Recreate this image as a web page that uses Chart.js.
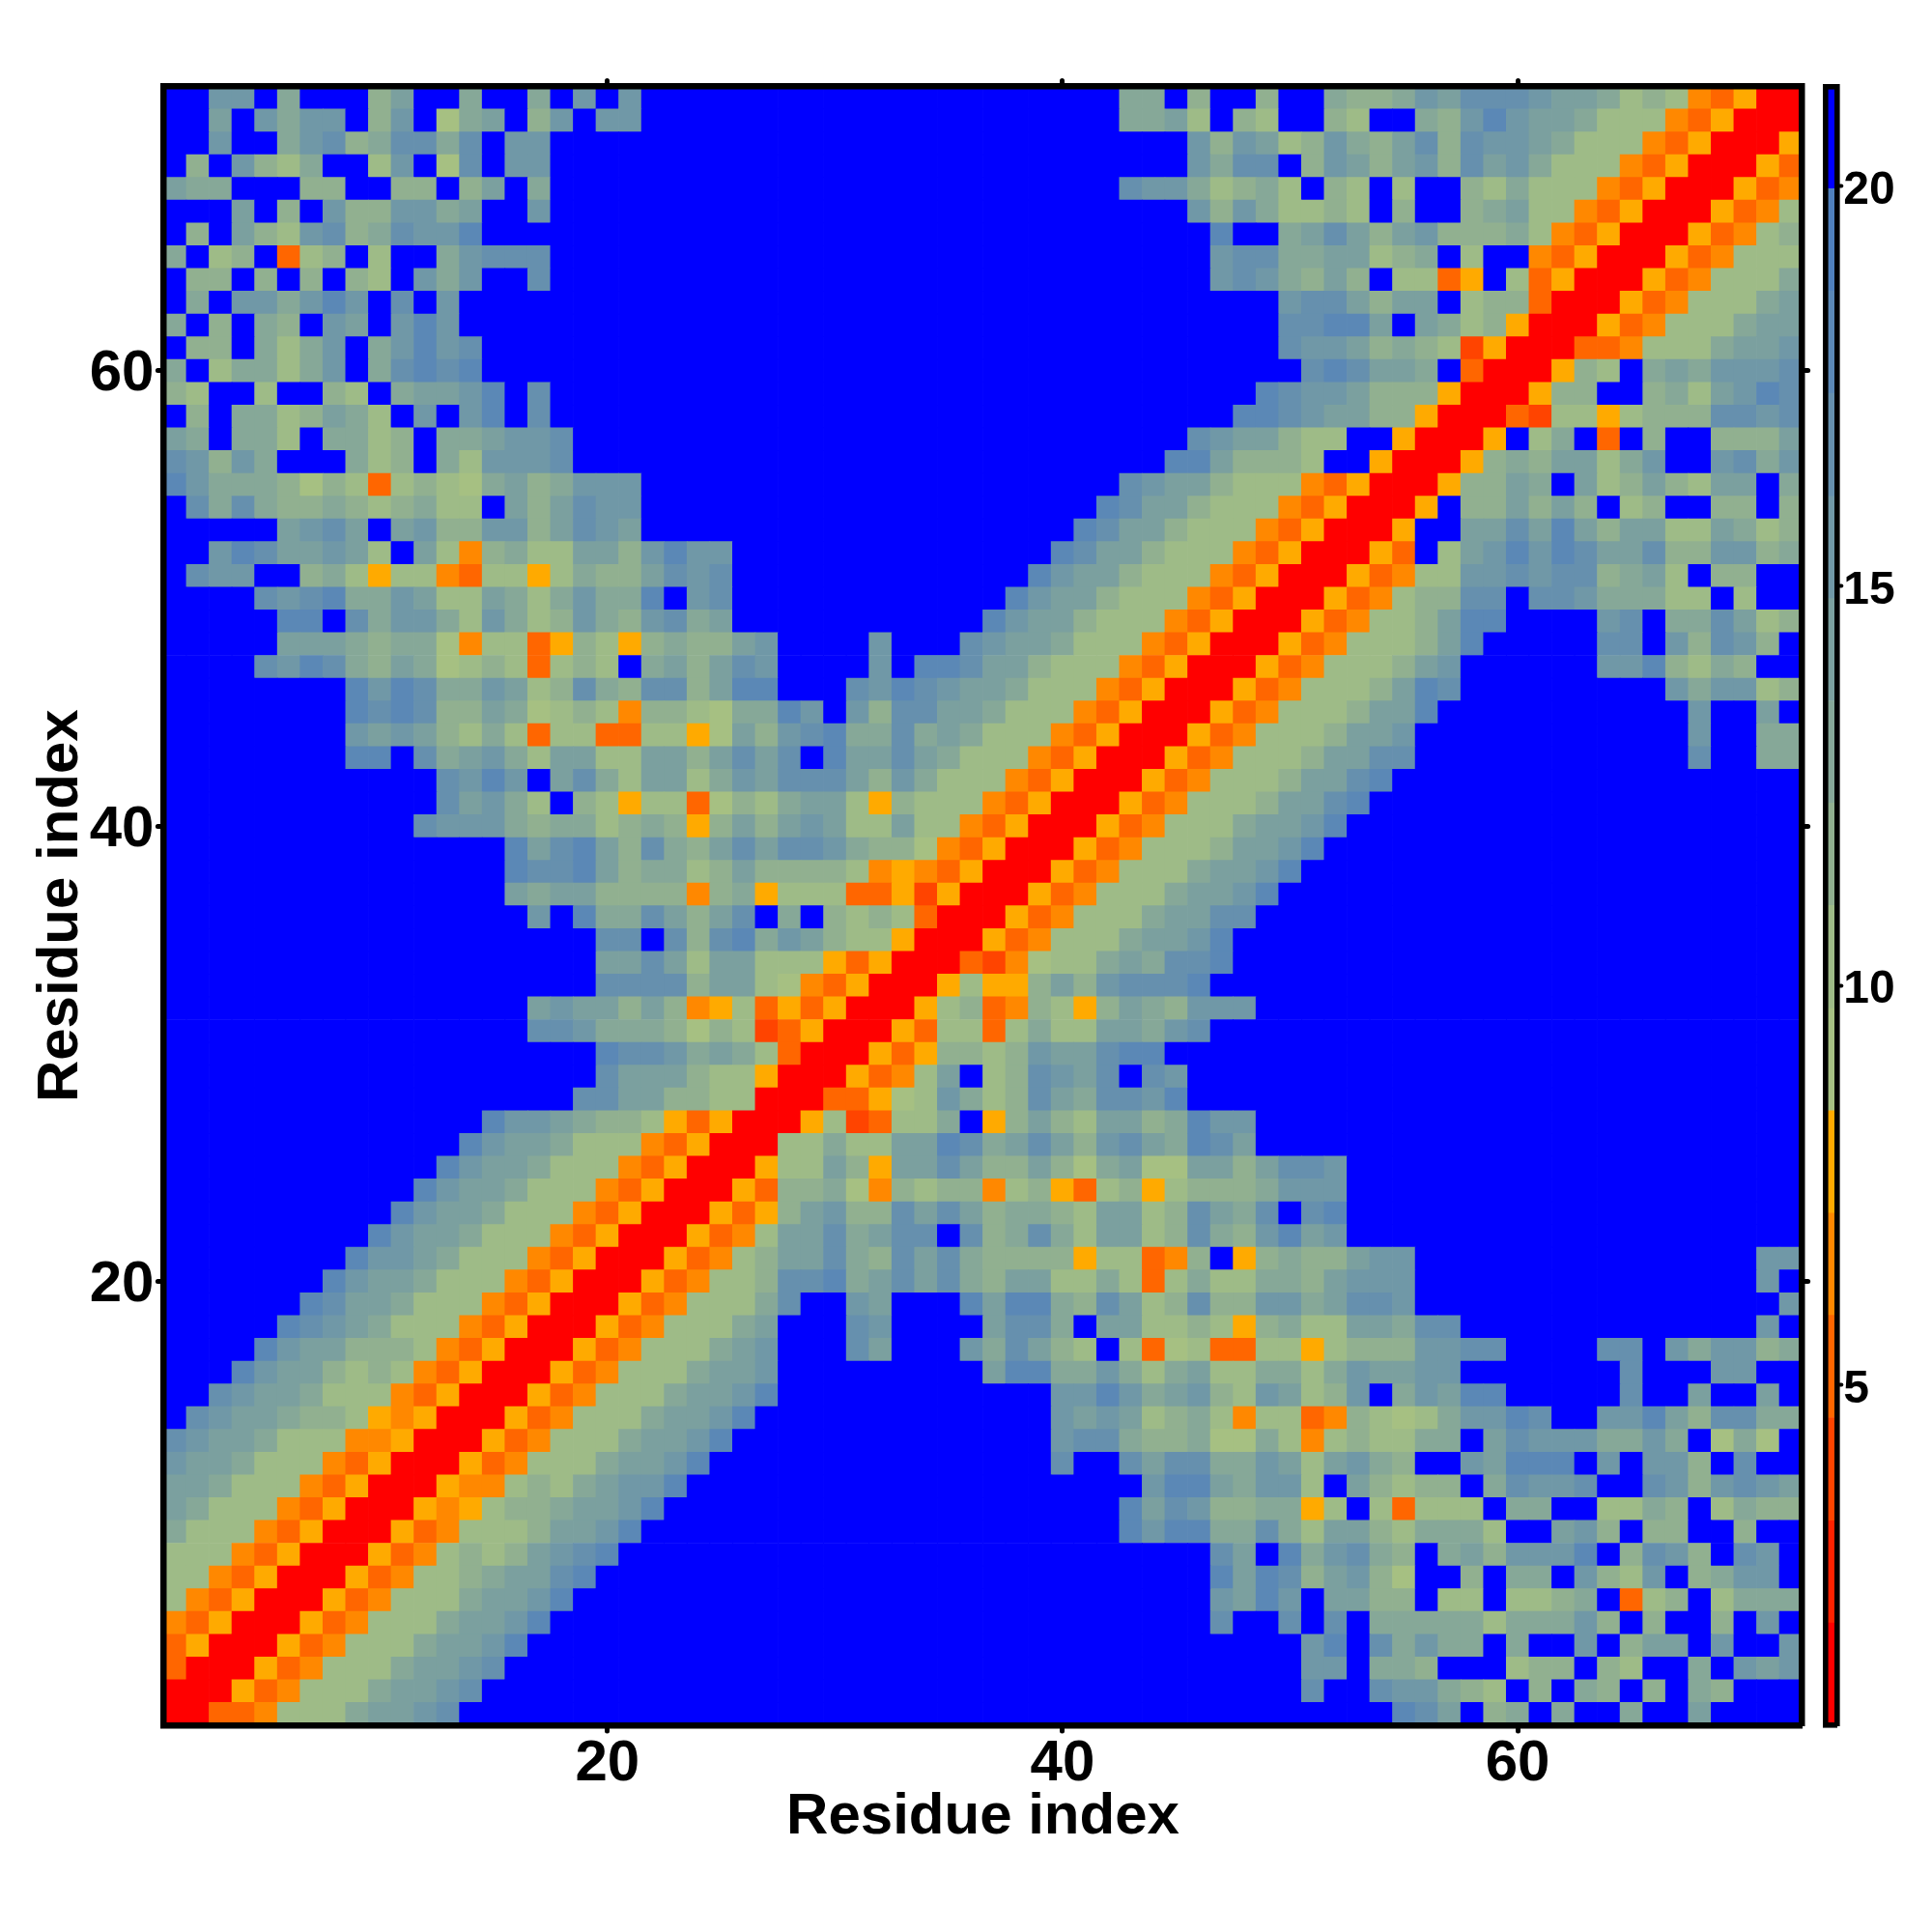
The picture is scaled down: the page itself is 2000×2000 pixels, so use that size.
<!DOCTYPE html>
<html>
<head>
<meta charset="utf-8">
<style>
html,body{margin:0;padding:0;background:#fff;width:2000px;height:2000px;overflow:hidden}
canvas{position:absolute;left:0;top:0}
</style>
<script src="https://cdn.jsdelivr.net/npm/chart.js@4/dist/chart.umd.min.js"></script>
</head>
<body>
<canvas id="map" width="2000" height="2000"></canvas>
<canvas id="bar" width="2000" height="2000"></canvas>
<script>
const axisTitle = 'Residue index';
const residueTicks = [20, 40, 60];
const colorbarTicks = [5, 10, 15, 20];
const levelEdges = [0.74,2.02,3.30,4.59,5.87,7.15,8.43,9.71,11.0,12.28,13.56,14.84,16.12,17.41,18.69,19.97,21.25];
const levelColors = ['#FF0000','#FF2200','#FF4400','#FF6600','#FF8800','#FFAA00',
  '#A6C082','#9EBB87','#91B090','#86A898','#7BA09F','#7098A7','#6690AE','#5B88B6','#5080BD','#0000FF'];
// Colour level (hex digit, 0..f) of each residue pair; row y = 72 first, x = 1..y.
// The map is symmetric about its diagonal, so each row stops at the diagonal.
const pairLevels = [
"ffbbf9fff8aff9ff9fbfbfff ffffffffffffffffff99f8ff 8ff9889bacccbaa978743500",
"ffafb9bbf8bf69af8bfbbfff ffffffffffffffffff99a7f8 7ff87ff98bdbaa977743500",
"ffbff9bc89cc9cfbbfffffff fffffffffffffffffffffb8b a78b98ac8cbba977743500",
"f8fb879ff7bf6cfbbfffffff fffffffffffffffffffffb9c cf8ba8ab8cab977743500",
"a99fff88ff88f8af9fffffff ffffffffffffffffffcbb978 97f87f7ff87977743500",
"fffaf8fb88bb9affbfffffff fffffffffffffffffffffb8b 97787f8ff89a7743500",
"f8fa87bc89cbbdffffffffff ffffffffffffffffffffffdf f9aca8ab8889743500",
"9f78f378f7ff9bcccfffffff ffffffffffffffffffffffbc c99aa789f7ff43500",
"f88f8f8f87fb9bffcfffffff ffffffffffffffffffffffbc b98a8f7735f73500",
"f9fbb9bdbfcfbfffffffffff ffffffffffffffffffffffff fbcca8aaf788300",
"9f8f98fbafbdbfffffffffff ffffffffffffffffffffffff fccddafa978500",
"f88f979bf9bdbcffffffffff ffffffffffffffffffffffff fcbba89872500",
"9f79979bf9cdcdffffffffff ffffffffffffffffffffffff ffcdcaa9f300",
"87ff7ff87f9aabdfcfffffff ffffffffffffffffffffffff dcbba888500",
"f8f9978a97fbfbdfcfffffff fffffffffffffffffffffffd dcbaa88500",
"a9f997f9978f99abbcffffff fffffffffffffffffffffcba a877ff500",
"cb8b9fff978f97bbbcffffff ffffffffffffffffffffdda8 887ff500",
"db9998687378769a89bbbfff ffffffffffffffffffcbaa87 7743500",
"fc9c9889878977fa8acbbfff fffffffffffffffffdcaa877 743500",
"fffffabcafab88bb8acbafff ffffffffffffffffdcaa8777 43500",
"ffbdcaaba7fa748977aa8bdb bffffffffffffffdcaa87774 3500",
"fcbbff897577437757988acb cfffffffffffffdbaa877743 500",
"ffffcbcd99ba77a979b99dfb cffffffffffffdbaa8777435 00",
"fffffddfc9bb97b978b98bc9 afffffffffffdbaa87774350 0",
"fffffaaa9899647735875898 8abffffbfffcbaa977743500",
"ffffcbdc98a967873787f9a8 acbffffbfddcaa877743500",
"ffffffffdbdc99ba78c98cc8 addfffcbdcbaa977743500",
"ffffffffdcdc88a967874887 699dbfb8ccaa977743500",
"ffffffffbaba879737733775 6a8bcd99c9a977743500",
"ffffffffddfc9ab97aa77aa8 acacfdaaca977743500",
"ffffffffffffcbdbfac97aa7 9baccca8b977743500",
"ffffffffffffcab97f875773 6879aa75877743500",
"fffffffffffcbbb989978985 8a8aba77a7743500",
"fffffffffffffffdacda8c98 acaccb988643500",
"fffffffffffffffdccda8997 8a888874543500",
"fffffffffffffffa9aa88884 8957773352500",
"ffffffffffffffffbfd99ca8 acf9f8787300",
"fffffffffffffffffffccfc8 cd9ba877500",
"fffffffffffffffffffaaca7 aa77753500",
"fffffffffffffffffffcccc8 aa7643500",
"ffffffffffffffffabaa8a84 57353500",
"ffffffffffffffffccb99986 8723500",
"fffffffffffffffffffdccb9 a97300",
"fffffffffffffffffffcaaa8 77500",
"ffffffffffffffffffccaa88 7700",
"ffffffffffffffdbba988753 500",
"fffffffffffffdbaa9777435 00",
"ffffffffffffdbaa97774350 0",
"fffffffffffdbaa977743500",
"ffffffffffdbaa977743500",
"fffffffffdbaa977743500",
"ffffffffdbba977743500",
"fffffffdbaa977743500",
"ffffffdcaa977743500",
"fffffdcba977743500",
"ffffdbaa888743500",
"fffdbaa878743500",
"ffcbaa977743500",
"fcbaa988754500",
"cbaa977744500",
"baa977743500",
"aa977743500",
"a977743500",
"977743500",
"77743500",
"7743500",
"743500",
"43500",
"3500",
"300",
"00",
"0"
];

const rows = pairLevels.map(r => r.replace(/ /g, ''));
function levelAt(x, y) {
  const hi = Math.max(x, y), lo = Math.min(x, y);
  const ch = (rows[72 - hi] || '')[lo - 1];
  return ch === undefined ? 15 : parseInt(ch, 16);
}
const cells = [], cellColors = [];
for (let y = 72; y >= 1; y--) for (let x = 1; x <= 72; x++) {
  cells.push({x, y});
  cellColors.push(levelColors[levelAt(x, y)]);
}

const FONT = '"Liberation Sans", Arial, sans-serif';
// Ticks have round ends in the reference; the frame keeps square ends so it does not poke past its corners.
const roundCaps = {
  id:'roundCaps',
  afterLayout(c){
    Object.values(c.scales).forEach(s => {
      if (s.__butt) return;
      s.__butt = true;
      const draw = s.drawBorder;
      s.drawBorder = function(){ const g = this.ctx; g.save(); g.lineCap = 'butt'; draw.call(this); g.restore(); };
    });
  },
  beforeDraw(c){ c.ctx.lineCap = 'round'; }
};
const whiteBg = {id:'whiteBg', beforeDraw(c){ c.ctx.save(); c.ctx.fillStyle='#fff'; c.ctx.fillRect(0,0,c.width,c.height); c.ctx.restore(); }};
const setTicks = list => s => { s.ticks = list.map(v => ({value: v})); };
const frame = {display:true, width:6.5, color:'#000', z:1};
const tickGrid = {drawOnChartArea:false, drawTicks:true, tickLength:6, tickWidth:5, tickColor:'#000', z:1};
const titleOpt = pad => ({display:true, text:axisTitle, color:'#000', font:{family:FONT, size:60, weight:'bold'}, padding:pad});
const axisFont = {family:FONT, size:60, weight:'bold'};
const residueRange = {type:'linear', min:0.5, max:72.5};

new Chart(document.getElementById('map'), {
  type:'scatter',
  data:{datasets:[{
    data:cells,
    pointStyle:'rect',
    pointBackgroundColor:cellColors,
    pointBorderWidth:0,
    pointRadius:c => {
      const s = c.chart.scales.x;
      return (s.getPixelForValue(2) - s.getPixelForValue(1)) / 2 / Math.SQRT1_2 + 0.5;
    }
  }]},
  options:{
    responsive:false, animation:false, devicePixelRatio:1, events:[],
    layout:{padding:0},
    plugins:{legend:{display:false}, tooltip:{enabled:false}},
    scales:{
      x:{...residueRange, position:'bottom', afterBuildTicks:setTicks(residueTicks), afterFit:s=>{s.height=214;},
         grid:tickGrid, border:frame,
         ticks:{color:'#000', font:axisFont, padding:-2, maxRotation:0, autoSkip:false},
         title:titleOpt({top:0,bottom:83})},
      y:{...residueRange, position:'left', afterBuildTicks:setTicks(residueTicks), afterFit:s=>{s.width=169.4;},
         grid:tickGrid, border:frame,
         ticks:{color:'#000', font:axisFont, padding:4, labelOffset:4, autoSkip:false},
         title:titleOpt({top:27,bottom:0})},
      x2:{...residueRange, position:'top', afterBuildTicks:setTicks(residueTicks), afterFit:s=>{s.height=89.4;},
         grid:tickGrid, border:frame, ticks:{display:false}},
      y2:{...residueRange, position:'right', afterBuildTicks:setTicks(residueTicks), afterFit:s=>{s.width=134.4;},
         grid:tickGrid, border:frame, ticks:{display:false}}
    }
  },
  plugins:[whiteBg, roundCaps]
});

const barFrame = {display:true, width:5.6, color:'#000', z:1};
new Chart(document.getElementById('bar'), {
  type:'bar',
  data:{labels:[''], datasets:levelColors.map((col,i) => ({
    data:[[levelEdges[i], levelEdges[i+1]]],
    backgroundColor:col, borderWidth:0, barPercentage:1, categoryPercentage:1, grouped:false, yAxisID:'y2'
  }))},
  options:{
    responsive:false, animation:false, devicePixelRatio:1, events:[],
    layout:{padding:0},
    plugins:{legend:{display:false}, tooltip:{enabled:false}},
    scales:{
      x:{position:'bottom', afterFit:s=>{s.height=214;}, grid:{display:false}, border:barFrame, ticks:{display:false}},
      xTop:{type:'category', labels:[''], position:'top', afterFit:s=>{s.height=89.4;}, grid:{display:false}, border:barFrame, ticks:{display:false}},
      yLeft:{type:'linear', position:'left', min:0.74, max:21.25, afterFit:s=>{s.width=1889.3;}, grid:{display:false}, border:barFrame, ticks:{display:false}},
      y2:{type:'linear', position:'right', min:0.74, max:21.25, afterBuildTicks:setTicks(colorbarTicks), afterFit:s=>{s.width=98.7;},
          grid:{drawOnChartArea:false, drawTicks:true, tickLength:5, tickWidth:4, tickColor:'#000', z:1},
          border:barFrame,
          ticks:{color:'#000', font:{family:FONT, size:48, weight:'bold'}, padding:2, labelOffset:5, autoSkip:false}}
    }
  },
  plugins:[roundCaps]
});
</script>
</body>
</html>
